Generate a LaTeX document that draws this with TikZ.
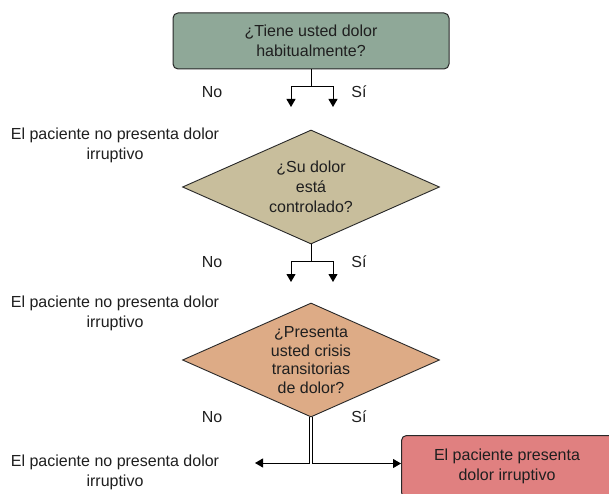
\documentclass[tikz,border=0pt]{standalone}
\usepackage{fontspec}
\setmainfont{Liberation Sans}
\usetikzlibrary{shapes.geometric,arrows.meta}
\definecolor{boxgreen}{RGB}{143,168,152}
\definecolor{dtan}{RGB}{200,190,156}
\definecolor{dorange}{RGB}{221,171,134}
\definecolor{boxred}{RGB}{224,128,128}
\definecolor{edge}{RGB}{40,40,40}
\tikzset{
  every node/.style={font=\fontsize{16}{19.8}\selectfont, text=black!88},
  rbox/.style={draw=edge, line width=1pt, rounded corners=5pt, align=center, inner sep=0pt},
  dia/.style={diamond, draw=edge, line width=0.9pt, inner sep=0pt, minimum width=257pt, minimum height=114pt},
  lbl/.style={align=center, inner sep=0pt},
  conn/.style={draw=black, line width=1pt},
  arr/.style={conn, -{Triangle[length=8pt,width=9pt]}},
}
\begin{document}
\begin{tikzpicture}[x=1pt,y=-1pt]
\useasboundingbox[fill=white] (0,0) rectangle (609,494);
% nodes
\node[rbox, fill=boxgreen, minimum width=276pt, minimum height=56pt] (q1) at (311,41) {¿Tiene usted dolor\\habitualmente?};
\node[dia, fill=dtan] (q2) at (311,187) {};
\node[lbl] (q2t) at (q2.center) {¿Su dolor\\está\\controlado?};
\node[dia, fill=dorange] (q3) at (311,360) {};
\node[lbl, font=\fontsize{16}{18.8}\selectfont] (q3t) at (q3.center) {¿Presenta\\usted crisis\\transitorias\\de dolor?};
\node[rbox, fill=boxred, minimum width=214pt, minimum height=62pt, anchor=north west] (r) at (401,435) {};
\node[lbl] (rt) at (507,466) {El paciente presenta\\dolor irruptivo};
% side texts
\node[lbl] (t1) at (115,145) {El paciente no presenta dolor\\irruptivo};
\node[lbl] (t2) at (115,313) {El paciente no presenta dolor\\irruptivo};
\node[lbl] (t3) at (115,472) {El paciente no presenta dolor\\irruptivo};
% labels
\node[lbl] (no1) at (212,92) {No};
\node[lbl] (si1) at (359,92) {Sí};
\node[lbl] (no2) at (212,262) {No};
\node[lbl] (si2) at (359,262) {Sí};
\node[lbl] (no3) at (212,417) {No};
\node[lbl] (si3) at (359,417) {Sí};
% free ends
\coordinate (n1) at (291,107);
\coordinate (s1) at (333,107);
\coordinate (n2) at (291,282);
\coordinate (s2) at (333,282);
\coordinate (n3) at (255,463);
\coordinate (j1) at (311,87);
\coordinate (j2) at (311,261);
% connectors
\draw[conn] (q1.south) -- (j1);
\draw[arr] (j1) -| (n1);
\draw[arr] (j1) -| (s1);
\draw[conn] (q2.south) -- (j2);
\draw[arr] (j2) -| (n2);
\draw[arr] (j2) -| (s2);
\draw[arr] ([xshift=-1.6pt]q3.south) |- (n3);
\draw[arr] ([xshift=1.6pt]q3.south) |- ([yshift=3pt]r.west);
\end{tikzpicture}
\end{document}
